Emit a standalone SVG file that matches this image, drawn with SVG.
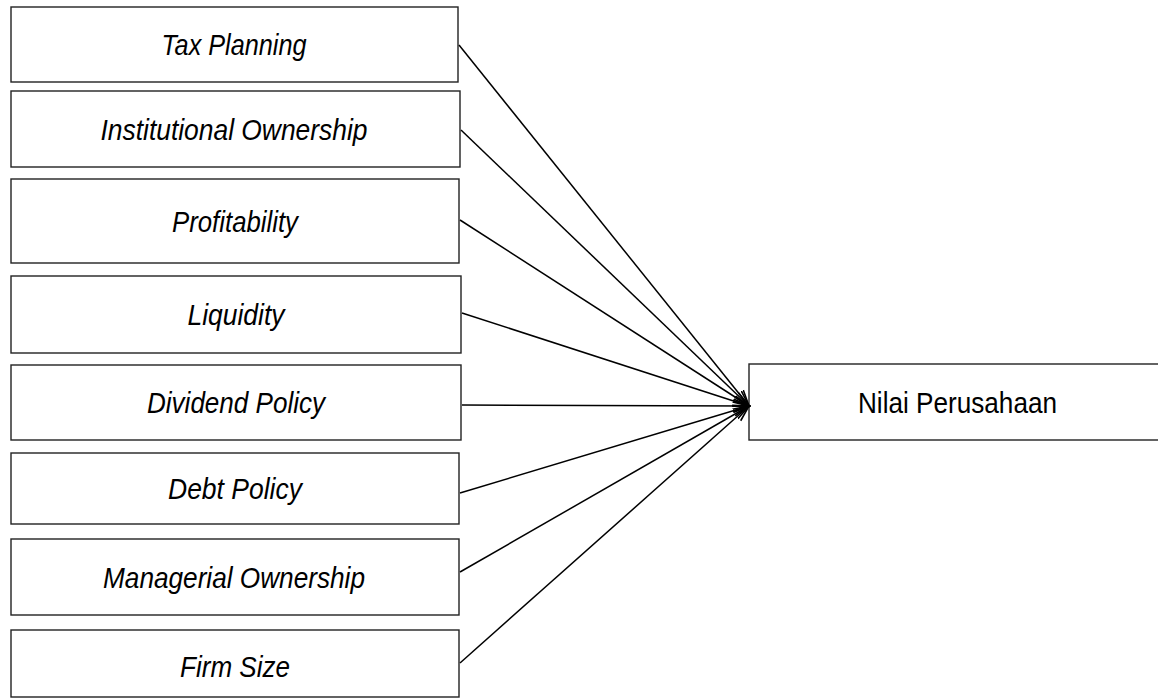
<svg xmlns="http://www.w3.org/2000/svg" width="1158" height="700" viewBox="0 0 1158 700">
<style>
.box{fill:#fff;stroke:#222;stroke-width:1.4}
.t{font-family:"Liberation Sans",Arial,sans-serif;font-size:30px;fill:#000;text-anchor:middle}
.i{font-style:italic}
.c{stroke:#000;stroke-width:1.5;fill:none}
</style>
<defs>
<marker id="arr" markerUnits="userSpaceOnUse" markerWidth="18" markerHeight="14" refX="16" refY="7" orient="auto">
<path d="M0,1.5 L16,7 L0,12.5" fill="none" stroke="#000" stroke-width="1.6"/>
</marker>
</defs>
<rect width="1158" height="700" fill="#fff"/>
<g id="n1"><rect class="box" x="11" y="7" width="447" height="75"/><text class="t i" x="234" y="55" textLength="145" lengthAdjust="spacingAndGlyphs">Tax Planning</text></g>
<g id="n2"><rect class="box" x="11" y="91" width="449" height="76"/><text class="t i" x="234" y="139.5" textLength="267" lengthAdjust="spacingAndGlyphs">Institutional Ownership</text></g>
<g id="n3"><rect class="box" x="11" y="179" width="448" height="84"/><text class="t i" x="235" y="231.5" textLength="126" lengthAdjust="spacingAndGlyphs">Profitability</text></g>
<g id="n4"><rect class="box" x="11" y="276" width="450" height="77"/><text class="t i" x="236" y="325" textLength="97" lengthAdjust="spacingAndGlyphs">Liquidity</text></g>
<g id="n5"><rect class="box" x="11" y="365" width="450" height="75"/><text class="t i" x="236" y="413" textLength="178" lengthAdjust="spacingAndGlyphs">Dividend Policy</text></g>
<g id="n6"><rect class="box" x="11" y="453" width="448" height="71"/><text class="t i" x="235" y="499" textLength="134" lengthAdjust="spacingAndGlyphs">Debt Policy</text></g>
<g id="n7"><rect class="box" x="11" y="539" width="448" height="76"/><text class="t i" x="234" y="587.5" textLength="262" lengthAdjust="spacingAndGlyphs">Managerial Ownership</text></g>
<g id="n8"><rect class="box" x="11" y="630" width="448" height="67"/><text class="t i" x="235" y="676.5" textLength="110" lengthAdjust="spacingAndGlyphs">Firm Size</text></g>
<g id="target"><rect class="box" x="749" y="364" width="420" height="76"/><text class="t" x="957.5" y="413" textLength="199" lengthAdjust="spacingAndGlyphs">Nilai Perusahaan</text></g>
<g id="connectors">
<line class="c" x1="459" y1="45" x2="749" y2="406" marker-end="url(#arr)"/>
<line class="c" x1="461" y1="130" x2="749" y2="406" marker-end="url(#arr)"/>
<line class="c" x1="460" y1="220" x2="749" y2="406" marker-end="url(#arr)"/>
<line class="c" x1="462" y1="313" x2="749" y2="406" marker-end="url(#arr)"/>
<line class="c" x1="462" y1="405" x2="749" y2="406" marker-end="url(#arr)"/>
<line class="c" x1="460" y1="493" x2="749" y2="406" marker-end="url(#arr)"/>
<line class="c" x1="460" y1="572" x2="749" y2="406" marker-end="url(#arr)"/>
<line class="c" x1="460" y1="663" x2="749" y2="406" marker-end="url(#arr)"/>
</g>
</svg>
